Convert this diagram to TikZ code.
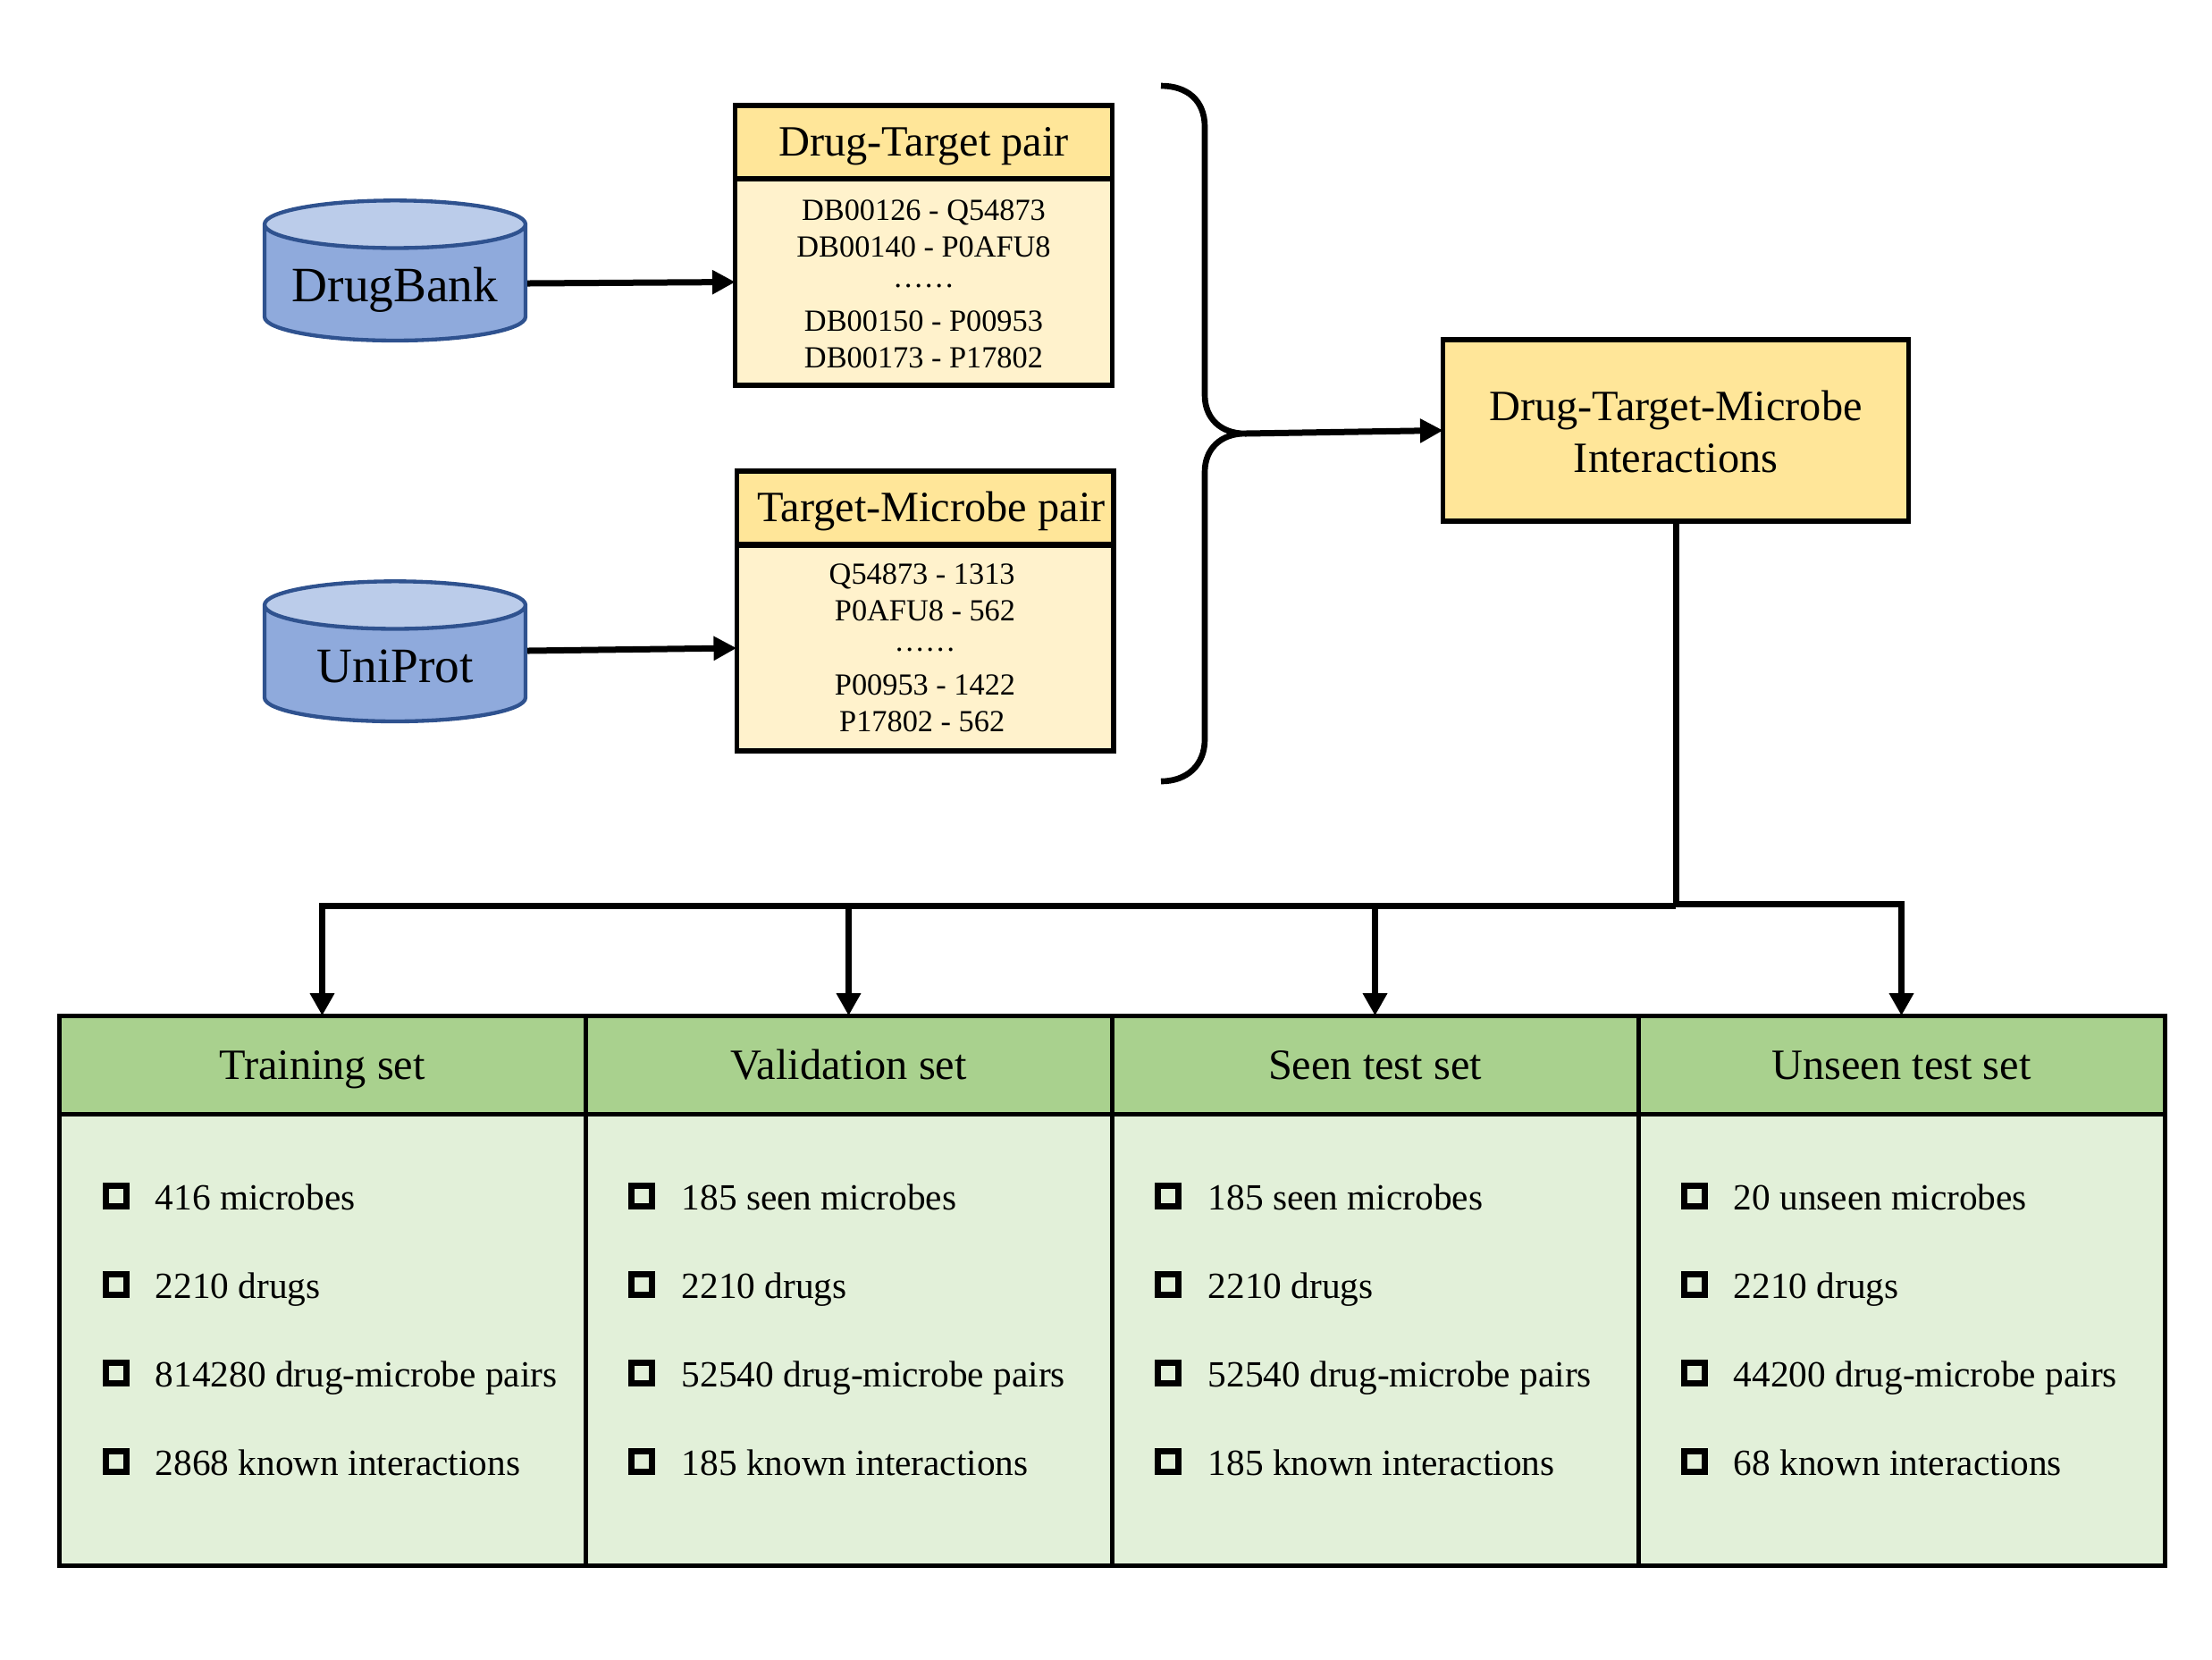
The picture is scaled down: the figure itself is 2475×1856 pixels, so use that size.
\documentclass[tikz,border=0pt]{standalone}
\usepackage{fontspec}
\setmainfont{Liberation Serif}
\usetikzlibrary{arrows.meta,shapes.geometric}
\definecolor{dbedge}{RGB}{47,82,143}
\definecolor{dbbody}{RGB}{143,170,220}
\definecolor{dbtop}{RGB}{187,204,234}
\definecolor{pairhead}{RGB}{255,230,153}
\definecolor{pairbody}{RGB}{255,242,204}
\definecolor{sethead}{RGB}{169,209,142}
\definecolor{setbody}{RGB}{226,240,217}
\tikzset{
  dbcyl/.style={shape=cylinder,shape border rotate=90,aspect=0.29,draw=dbedge,line width=1.3pt,cylinder uses custom fill,cylinder body fill=dbbody,cylinder end fill=dbtop,minimum width=87.6pt,minimum height=47pt,inner sep=0pt,text height=14pt,text depth=2pt,font=\fontsize{16.6}{20}\selectfont},
  pairhd/.style={draw,line width=1.6pt,fill=pairhead,minimum width=126.5pt,minimum height=24.6pt,inner sep=0pt,text height=10.5pt,text depth=1pt,font=\fontsize{14.5}{18}\selectfont},
  pairbd/.style={draw,line width=1.6pt,fill=pairbody,minimum width=126.5pt,inner sep=0pt,align=center,font=\fontsize{10.3}{12.4}\selectfont},
  mainbox/.style={draw,line width=1.6pt,fill=pairhead,minimum width=156.2pt,minimum height=60.9pt,inner sep=0pt,align=center,font=\fontsize{14.5}{17.4}\selectfont},
  sethd/.style={draw,line width=1.5pt,fill=sethead,minimum width=176.7pt,minimum height=33pt,inner sep=0pt,text height=10.8pt,text depth=1.2pt,font=\fontsize{14.5}{17}\selectfont},
  setbd/.style={draw,line width=1.5pt,fill=setbody,minimum width=176.7pt,minimum height=151.5pt,inner sep=0pt},
  tick/.style={draw,line width=1.9pt,minimum size=6.9pt,inner sep=0pt},
  itemtxt/.style={anchor=base west,inner sep=0pt,font=\fontsize{12.4}{15}\selectfont},
  conn/.style={line width=2.1pt,shorten >=-0.8pt,-{Triangle[length=7.7pt,width=7.7pt]}},
  splitconn/.style={line width=2.1pt,shorten >=-0.8pt,-{Triangle[length=7.5pt,width=7.8pt]}},
}
\begin{document}
\begin{tikzpicture}[x=0.3pt,y=0.3pt,yscale=-1,xscale=1]
\useasboundingbox (0,0) rectangle (2475,1856);

% Databases
\node [dbcyl] (drugbank) at (442,317) {\makebox[55pt]{DrugBank}};
\node [dbcyl] (uniprot) at (442,743) {\makebox[55pt]{UniProt}};

% Pair tables
\node [pairhd] (dthead) at (1033.5,159) {Drug-Target pair};
\node [pairbd,minimum height=69.3pt] (dtbody) at (1033.5,315.5) {\rule{0pt}{8pt}DB00126 - Q54873\\DB00140 - P0AFU8\\\raisebox{2.3pt}{……}\\DB00150 - P00953\\DB00173 - P17802};
\node [pairhd] (tmhead) at (1035,568) {\hspace*{4.2pt}Target-Microbe pair};
\node [pairbd,minimum height=69pt] (tmbody) at (1035,725) {Q54873 - 1313\hspace*{2pt}\\P0AFU8 - 562\hspace*{2pt}\\\raisebox{2.3pt}{……}\hspace*{2pt}\\P00953 - 1422\hspace*{2pt}\\P17802 - 562\hspace*{2pt}};

% Merged interactions
\node [mainbox] (dtm) at (1875,481.5) {\rule{0pt}{11pt}Drug-Target-Microbe\\Interactions};

% Brace
\coordinate (bracetip) at (1393,485);
\draw [line width=2pt] (1299,96) .. controls (1328,96) and (1348,112) .. (1348,142) -- (1348,442) .. controls (1348,468) and (1366,485) .. (bracetip) .. controls (1366,485) and (1348,502) .. (1348,528) -- (1348,827) .. controls (1348,856) and (1328,874) .. (1299,874);

% Straight Lines
\draw [conn] (drugbank.east) -- (dtbody.west);
\draw [conn] ([yshift=-4.5pt]uniprot.east) -- (tmbody.west);
\draw [conn] (bracetip) -- (dtm.west);

% Set headers
\node [sethd] (trainhead) at (360.5,1191) {Training set};
\node [sethd] (validhead) at (949.5,1191) {Validation set};
\node [sethd] (seenhead) at (1538.5,1191) {Seen test set};
\node [sethd] (unseenhead) at (2127.5,1191) {Unseen test set};

% Set bodies
\node [setbd] (trainbody) at (360.5,1498.5) {};
\node [setbd] (validbody) at (949.5,1498.5) {};
\node [setbd] (seenbody) at (1538.5,1498.5) {};
\node [setbd] (unseenbody) at (2127.5,1498.5) {};

% Split
\coordinate (splitl) at (1875,1013);
\coordinate (splitr) at (1875,1011);
\draw [line width=2.1pt] (dtm.south) -- (splitl);
\draw [splitconn] (splitl) -| (trainhead.north);
\draw [splitconn] (splitl) -| (validhead.north);
\draw [splitconn] (splitl) -| (seenhead.north);
\draw [splitconn] (splitr) -| (unseenhead.north);

% Training set
\node [tick] (t1) at (130,1338) {};
\node [tick] (t2) at (130,1437) {};
\node [tick] (t3) at (130,1536) {};
\node [tick] (t4) at (130,1635) {};
\node [itemtxt] (ta) at (173,1353) {416 microbes};
\node [itemtxt] (tb) at (173,1452) {2210 drugs};
\node [itemtxt] (tc) at (173,1551) {814280 drug-microbe pairs};
\node [itemtxt] (td) at (173,1650) {2868 known interactions};

% Validation set
\node [tick] (v1) at (718,1338) {};
\node [tick] (v2) at (718,1437) {};
\node [tick] (v3) at (718,1536) {};
\node [tick] (v4) at (718,1635) {};
\node [itemtxt] (va) at (762,1353) {185 seen microbes};
\node [itemtxt] (vb) at (762,1452) {2210 drugs};
\node [itemtxt] (vc) at (762,1551) {52540 drug-microbe pairs};
\node [itemtxt] (vd) at (762,1650) {185 known interactions};

% Seen test set
\node [tick] (s1) at (1307,1338) {};
\node [tick] (s2) at (1307,1437) {};
\node [tick] (s3) at (1307,1536) {};
\node [tick] (s4) at (1307,1635) {};
\node [itemtxt] (sa) at (1351,1353) {185 seen microbes};
\node [itemtxt] (sb) at (1351,1452) {2210 drugs};
\node [itemtxt] (sc) at (1351,1551) {52540 drug-microbe pairs};
\node [itemtxt] (sd) at (1351,1650) {185 known interactions};

% Unseen test set
\node [tick] (u1) at (1896,1338) {};
\node [tick] (u2) at (1896,1437) {};
\node [tick] (u3) at (1896,1536) {};
\node [tick] (u4) at (1896,1635) {};
\node [itemtxt] (ua) at (1939,1353) {20 unseen microbes};
\node [itemtxt] (ub) at (1939,1452) {2210 drugs};
\node [itemtxt] (uc) at (1939,1551) {44200 drug-microbe pairs};
\node [itemtxt] (ud) at (1939,1650) {68 known interactions};

\end{tikzpicture}
\end{document}
